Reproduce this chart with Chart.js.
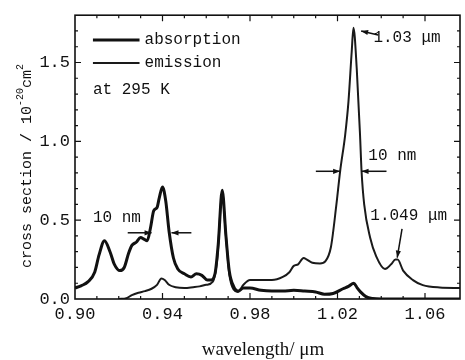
<!DOCTYPE html>
<html>
<head>
<meta charset="utf-8">
<script src="https://cdn.jsdelivr.net/npm/chart.js@4/dist/chart.umd.min.js"></script>
<style>
html,body{margin:0;padding:0;background:#fff;}
canvas{display:block;}
</style>
</head>
<body>
<canvas id="c" width="465" height="360"></canvas>
<script>
// ---- data ----
const seriesNames = ['absorption', 'emission'];

const absWavelength = [0.900,0.903,0.906,0.909,0.911,0.9135,0.916,0.918,0.9205,0.9225,0.9245,0.926,0.928,0.930,0.9315,0.933,0.9345,0.936,0.9375,0.9385,0.940,0.9415,0.943,0.945,0.947,0.950,0.953,0.9555,0.958,0.9605,0.962,0.964,0.9655,0.9673,0.969,0.9705,0.9725,0.9745,0.977,0.980,0.985,0.990,0.995,1.000,1.005,1.010,1.014,1.018,1.0225,1.025,1.0275,1.029,1.0305,1.033,1.036,1.040,1.050,1.060,1.076];
const absValues     = [0.07,0.085,0.11,0.17,0.28,0.37,0.30,0.22,0.18,0.20,0.29,0.34,0.36,0.39,0.38,0.37,0.45,0.56,0.58,0.64,0.71,0.62,0.43,0.26,0.19,0.16,0.14,0.16,0.15,0.12,0.12,0.16,0.35,0.69,0.40,0.18,0.08,0.05,0.07,0.07,0.055,0.05,0.05,0.055,0.05,0.045,0.03,0.035,0.065,0.08,0.10,0.07,0.045,0.015,0.003,0.0,0.0,0.0,0.0];

const emiWavelength = [0.920,0.9235,0.926,0.929,0.932,0.935,0.9375,0.9395,0.941,0.943,0.946,0.950,0.954,0.957,0.960,0.963,0.965,0.9673,0.969,0.9705,0.9725,0.9745,0.977,0.980,0.985,0.990,0.995,0.998,1.000,1.002,1.0045,1.006,1.0085,1.012,1.0145,1.0170,1.0195,1.0212,1.0235,1.025,1.0265,1.0273,1.0288,1.0303,1.031,1.0322,1.0349,1.0377,1.0417,1.0445,1.0465,1.0475,1.050,1.0545,1.059,1.0667,1.076];
const emiValues     = [0.0,0.005,0.025,0.04,0.05,0.065,0.09,0.13,0.12,0.09,0.075,0.07,0.075,0.08,0.09,0.11,0.25,0.66,0.40,0.16,0.06,0.045,0.09,0.12,0.12,0.12,0.14,0.17,0.21,0.22,0.26,0.25,0.23,0.225,0.24,0.33,0.60,0.81,1.04,1.25,1.57,1.72,1.46,1.04,0.81,0.60,0.39,0.27,0.19,0.22,0.25,0.25,0.18,0.12,0.088,0.073,0.07];

const xTickLabels = ['0.90','0.94','0.98','1.02','1.06'];
const yTickLabels = ['0.0','0.5','1.0','1.5'];

const xTitle = 'wavelength/ μm';
const yTitleMain = 'cross section / 10';
const yTitleSup1 = '-20';
const yTitleMid = 'cm';
const yTitleSup2 = '2';
const noteTemp = 'at 295 K';

// annotations in data units
const textNotes = [
  {text:'10 nm',   x:0.9082, y:0.516},
  {text:'10 nm',   x:1.0341, y:0.906},
  {text:'1.03 μm', x:1.0364, y:1.66},
  {text:'1.049 μm',x:1.0350, y:0.528},
  {text:noteTemp,  x:0.9082, y:1.327}
];
const arrowNotes = [
  {from:[0.9241,0.42], to:[0.9350,0.42]},
  {from:[0.9532,0.42], to:[0.9441,0.42]},
  {from:[1.0101,0.81], to:[1.0212,0.81]},
  {from:[1.0424,0.81], to:[1.0310,0.81]},
  {from:[1.0386,1.675], to:[1.0308,1.70]},
  {from:[1.0495,0.445], to:[1.0473,0.262]}
];
const legendPos = {x0:0.9082, x1:0.9295, xText:0.9318, y:[1.642,1.497]};

const MONO = '"Liberation Mono", "DejaVu Sans Mono", monospace';
const SERIF = '"Liberation Serif", "DejaVu Serif", serif';

function toXY(xs, ys){ return xs.map((x,i)=>({x:x, y:ys[i]})); }

const decor = {
  id:'decor',
  afterDatasetsDraw(chart){
    const ctx = chart.ctx, a = chart.chartArea;
    const xs = chart.scales.x, ys = chart.scales.y;
    ctx.save();
    ctx.strokeStyle = '#111';
    ctx.fillStyle = '#111';
    // frame
    ctx.lineWidth = 1.6;
    ctx.strokeRect(a.left, a.top, a.right - a.left, a.bottom - a.top);
    // inward ticks
    ctx.lineWidth = 1.2;
    xs.ticks.forEach(t=>{
      const px = xs.getPixelForValue(t.value);
      if (px <= a.left + 1 || px >= a.right - 1) return;
      const major = xTickLabels.includes(t.value.toFixed(2));
      const L = major ? 6 : 3;
      ctx.beginPath();
      ctx.moveTo(px, a.bottom); ctx.lineTo(px, a.bottom - L);
      ctx.moveTo(px, a.top); ctx.lineTo(px, a.top + L);
      ctx.stroke();
    });
    ys.ticks.forEach(t=>{
      const py = ys.getPixelForValue(t.value);
      if (py <= a.top + 1 || py >= a.bottom - 1) return;
      const major = yTickLabels.includes(t.value.toFixed(1));
      const L = major ? 6 : 3;
      ctx.beginPath();
      ctx.moveTo(a.left, py); ctx.lineTo(a.left + L, py);
      ctx.moveTo(a.right, py); ctx.lineTo(a.right - L, py);
      ctx.stroke();
    });
    // legend
    chart.data.datasets.forEach((ds,i)=>{
      const py = ys.getPixelForValue(legendPos.y[i]);
      ctx.beginPath();
      ctx.lineWidth = ds.borderWidth;
      ctx.strokeStyle = ds.borderColor;
      ctx.moveTo(xs.getPixelForValue(legendPos.x0), py);
      ctx.lineTo(xs.getPixelForValue(legendPos.x1), py);
      ctx.stroke();
      ctx.font = '16px ' + MONO;
      ctx.textAlign = 'left';
      ctx.textBaseline = 'middle';
      ctx.fillStyle = '#111';
      ctx.fillText(ds.label, xs.getPixelForValue(legendPos.xText), py);
    });
    // text notes
    ctx.font = '16px ' + MONO;
    ctx.textAlign = 'left';
    ctx.textBaseline = 'middle';
    ctx.fillStyle = '#111';
    textNotes.forEach(n=>{
      ctx.fillText(n.text, xs.getPixelForValue(n.x), ys.getPixelForValue(n.y));
    });
    // arrows
    ctx.strokeStyle = '#111';
    ctx.lineWidth = 1.5;
    arrowNotes.forEach(ar=>{
      const x1 = xs.getPixelForValue(ar.from[0]), y1 = ys.getPixelForValue(ar.from[1]);
      const x2 = xs.getPixelForValue(ar.to[0]),   y2 = ys.getPixelForValue(ar.to[1]);
      const ang = Math.atan2(y2 - y1, x2 - x1);
      ctx.beginPath(); ctx.moveTo(x1, y1); ctx.lineTo(x2, y2); ctx.stroke();
      const hl = 7, hw = 2.6;
      ctx.beginPath();
      ctx.moveTo(x2, y2);
      ctx.lineTo(x2 - hl*Math.cos(ang) + hw*Math.sin(ang), y2 - hl*Math.sin(ang) - hw*Math.cos(ang));
      ctx.lineTo(x2 - hl*Math.cos(ang) - hw*Math.sin(ang), y2 - hl*Math.sin(ang) + hw*Math.cos(ang));
      ctx.closePath(); ctx.fill();
    });
    // x title
    ctx.font = '19px ' + SERIF;
    ctx.textAlign = 'center';
    ctx.textBaseline = 'middle';
    ctx.fillText(xTitle, 263, 350);
    // y title (rotated, with superscripts)
    ctx.translate(27, 166);
    ctx.rotate(-Math.PI/2);
    const big = '15px ' + MONO, small = '10px ' + MONO;
    ctx.font = big; const w1 = ctx.measureText(yTitleMain).width;
    const w3 = ctx.measureText(yTitleMid).width;
    ctx.font = small; const w2 = ctx.measureText(yTitleSup1).width;
    const w4 = ctx.measureText(yTitleSup2).width;
    let cx = -(w1 + w2 + w3 + w4)/2;
    ctx.textAlign = 'left';
    ctx.textBaseline = 'middle';
    ctx.font = big; ctx.fillText(yTitleMain, cx, 0); cx += w1;
    ctx.font = small; ctx.fillText(yTitleSup1, cx, -7); cx += w2;
    ctx.font = big; ctx.fillText(yTitleMid, cx, 0); cx += w3;
    ctx.font = small; ctx.fillText(yTitleSup2, cx, -7);
    ctx.restore();
  }
};

new Chart(document.getElementById('c'), {
  type:'line',
  data:{
    datasets:[
      {label:seriesNames[0], data:toXY(absWavelength, absValues), borderColor:'#111', borderWidth:3, pointRadius:0, cubicInterpolationMode:'monotone', fill:false},
      {label:seriesNames[1], data:toXY(emiWavelength, emiValues), borderColor:'#1a1a1a', borderWidth:2, pointRadius:0, cubicInterpolationMode:'monotone', fill:false}
    ]
  },
  options:{
    responsive:false,
    animation:false,
    events:[],
    layout:{padding:{top:13, right:2, left:0, bottom:0}},
    plugins:{legend:{display:false}, tooltip:{enabled:false}},
    scales:{
      x:{
        type:'linear', min:0.90, max:1.076,
        grid:{display:false, drawTicks:false},
        border:{display:false},
        ticks:{
          stepSize:0.01, autoSkip:false, maxRotation:0, padding:5,
          color:'#111', font:{family:MONO, size:17},
          callback:(v)=>{ const s = Number(v).toFixed(2); return xTickLabels.includes(s) ? s : ''; }
        },
        afterFit:(s)=>{ s.height = 61; }
      },
      y:{
        type:'linear', min:0, max:1.8,
        grid:{display:false, drawTicks:false},
        border:{display:false},
        ticks:{
          stepSize:0.1, autoSkip:false, padding:5,
          color:'#111', font:{family:MONO, size:17},
          callback:(v)=>{ const s = Number(v).toFixed(1); return yTickLabels.includes(s) ? s : ''; }
        },
        afterFit:(s)=>{ s.width = 75; }
      }
    }
  },
  plugins:[decor]
});
</script>
</body>
</html>
